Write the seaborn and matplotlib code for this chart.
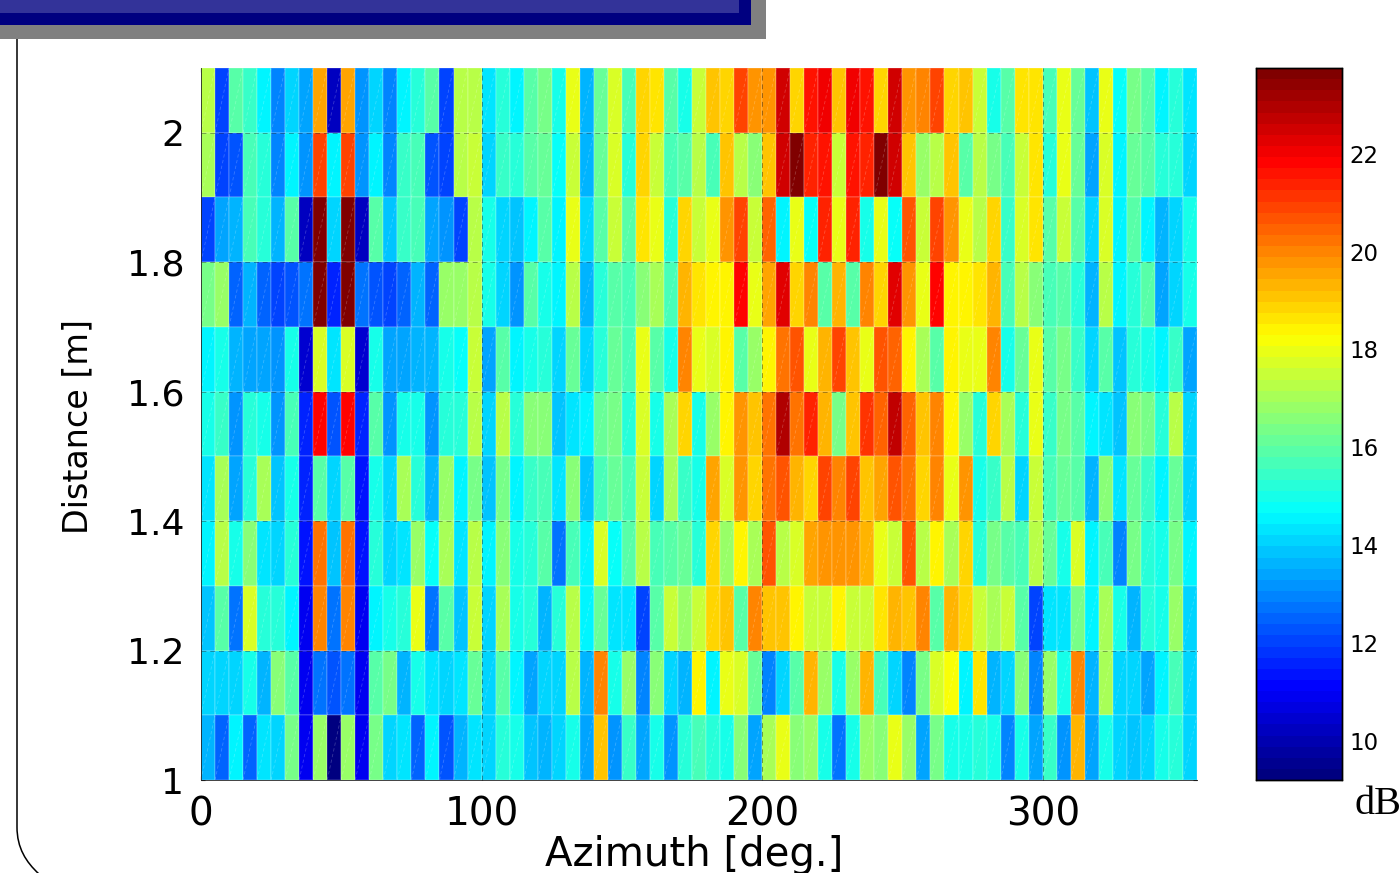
import numpy as np
import pandas as pd
import seaborn as sns
import matplotlib
matplotlib.use("Agg")
import matplotlib.pyplot as plt
from matplotlib.collections import LineCollection
from matplotlib.colors import LinearSegmentedColormap
from matplotlib.patches import PathPatch, Rectangle
from matplotlib.path import Path

azimuths = list(range(0, 355, 5))
distances = [2.0, 1.9, 1.8, 1.7, 1.6, 1.5, 1.4, 1.3, 1.2, 1.1, 1.0]

row_2_0 = [17.3,12.0,15.8,15.4,14.6,13.0,14.1,13.3,19.5,10.2,19.5,13.2,14.1,13.0,14.6,15.3,15.8,12.0,17.3,17.3,14.3,15.3,14.6,15.8,
           16.3,14.9,17.9,13.7,16.2,17.7,15.6,18.8,18.7,15.8,15.0,17.4,19.0,18.9,20.8,19.7,19.7,22.6,18.9,21.6,22.0,19.2,22.1,21.6,
           18.9,22.6,19.8,20.0,20.8,18.9,19.1,17.4,15.1,15.8,18.6,18.6,15.7,17.9,16.2,13.8,17.9,14.7,16.4,15.9,14.6,15.2,14.3]
row_1_9 = [17.0,12.1,12.2,15.7,15.2,12.9,14.6,13.2,20.8,14.6,20.8,13.2,14.6,13.0,15.4,15.7,12.3,12.1,17.2,17.4,14.2,15.4,15.3,15.8,
           16.2,14.8,17.6,13.7,16.2,17.8,15.3,18.8,17.6,15.7,16.0,17.3,15.7,19.1,17.2,16.7,19.1,22.5,23.7,21.4,21.7,17.4,21.7,21.3,
           23.7,22.5,19.0,16.9,17.3,19.2,15.8,17.2,16.3,15.7,17.5,18.6,15.3,17.9,16.2,13.3,17.7,14.5,16.2,15.9,15.2,15.2,14.0]
row_1_8 = [12.0,13.3,13.6,15.7,15.3,13.7,15.8,10.3,23.7,14.1,23.7,10.3,15.8,13.8,15.4,15.7,13.3,13.2,12.0,17.3,14.9,14.2,13.9,14.6,
           15.9,14.6,18.0,14.1,16.0,17.6,15.8,18.7,17.9,15.3,18.9,17.5,18.0,19.8,21.0,17.4,20.5,14.6,18.0,14.8,21.3,18.0,21.3,14.9,
           18.0,14.8,20.6,17.6,21.0,19.8,18.0,17.3,18.9,15.5,17.8,18.7,15.8,17.6,16.0,14.2,17.8,14.6,15.8,14.6,13.6,14.0,14.9]
row_1_7 = [16.3,16.9,12.6,13.6,12.5,12.1,12.2,12.8,23.7,11.7,23.7,12.7,12.3,12.1,12.5,13.6,12.4,16.9,16.9,17.2,15.0,14.2,13.1,16.0,
           15.1,14.6,17.3,13.7,15.2,15.8,15.6,16.5,17.0,15.6,19.4,18.6,18.3,18.3,21.9,17.9,19.5,22.2,18.8,20.1,15.8,19.4,15.8,20.0,
           18.9,22.2,19.7,18.0,21.9,18.3,18.3,18.6,19.4,15.7,17.2,16.6,15.6,15.9,15.2,13.6,17.3,14.6,15.3,16.0,13.3,14.1,15.1]
row_1_6 = [14.6,15.0,13.7,13.5,13.4,13.2,15.1,10.4,17.7,14.3,17.7,10.4,15.1,13.3,13.3,13.6,13.7,15.0,14.7,17.6,13.3,15.8,14.6,15.0,
           15.2,14.1,16.1,14.2,15.2,16.2,15.6,17.9,16.0,15.0,20.1,18.0,17.8,18.3,15.9,16.8,18.3,20.3,20.6,18.0,19.4,21.0,19.2,17.9,
           20.6,20.4,18.3,17.0,15.9,18.3,17.9,18.0,20.1,15.0,16.1,17.9,15.9,16.4,15.4,14.2,16.0,13.9,15.2,15.0,14.6,15.5,13.4]
row_1_5 = [15.1,15.5,13.2,15.2,15.0,13.2,15.7,11.7,21.9,12.2,21.9,11.6,15.8,13.2,15.0,15.0,13.1,15.3,15.3,17.2,14.2,17.3,15.3,16.5,
           16.6,13.9,14.3,14.6,16.1,16.3,15.3,17.8,15.1,17.0,18.9,15.1,16.9,18.3,19.7,19.0,20.3,22.9,20.3,21.3,19.3,16.4,19.2,21.2,
           20.4,22.8,20.5,19.0,19.9,18.3,16.8,15.2,18.8,17.0,15.3,17.9,15.5,16.4,15.9,14.6,14.3,13.8,16.6,16.4,15.3,17.3,14.2]
row_1_4 = [14.4,17.0,13.4,15.3,17.0,13.8,15.0,11.5,15.9,14.0,15.9,11.3,14.9,14.0,17.0,15.3,13.6,16.9,14.5,16.3,13.9,16.3,14.6,15.5,
           15.7,14.3,16.6,13.8,15.6,16.2,15.6,17.6,14.2,17.0,15.4,15.1,19.5,17.7,19.8,18.9,20.3,20.7,19.4,18.9,21.0,19.9,21.0,19.0,
           19.5,20.6,20.2,18.9,19.9,17.9,19.7,15.0,15.5,17.2,14.2,17.6,15.6,16.2,15.8,13.7,16.6,14.4,16.2,15.5,14.6,16.1,14.0]
row_1_3 = [14.5,17.2,15.0,16.7,14.4,14.0,15.3,11.4,20.3,13.9,20.3,11.3,15.2,14.2,14.4,16.9,14.8,17.0,14.4,17.3,14.6,16.5,15.0,15.3,
           15.9,12.8,15.6,14.6,17.7,14.8,16.0,17.3,15.6,15.8,16.2,15.2,18.9,16.9,18.3,17.1,20.7,17.3,17.8,19.5,19.8,19.8,19.8,19.4,
           18.0,17.4,20.7,17.3,18.3,17.0,18.9,15.2,16.4,16.0,15.7,17.2,16.2,14.9,17.7,14.6,15.7,12.9,16.3,15.3,15.0,16.3,14.6]
row_1_2 = [13.9,16.0,12.7,17.8,15.2,15.3,14.6,10.9,20.1,12.8,20.1,10.9,14.6,15.0,15.2,18.0,12.8,15.9,13.9,17.6,14.2,17.0,15.0,15.3,
           13.7,15.2,17.2,14.6,16.2,14.3,14.3,12.0,15.9,17.5,16.8,17.4,18.8,19.2,16.0,20.1,19.1,19.2,18.5,17.5,17.5,18.5,17.4,17.4,
           18.6,19.4,19.0,20.1,16.0,19.3,18.8,17.6,17.0,17.4,15.9,12.0,14.3,14.4,16.4,14.6,17.1,15.0,13.6,15.2,14.9,16.9,14.2]
row_1_1 = [14.2,14.1,14.2,14.9,13.6,16.5,15.8,11.0,12.7,12.2,12.7,11.0,15.9,16.3,13.6,15.0,14.3,14.2,14.3,16.2,14.2,15.8,14.6,13.4,
           14.2,14.0,17.3,13.7,20.0,15.0,16.9,13.0,16.7,14.0,13.6,18.5,14.6,18.0,17.7,16.2,13.0,14.1,15.8,19.4,16.8,15.1,16.8,19.4,
           15.7,14.1,13.0,16.3,17.7,18.1,14.6,18.6,13.6,14.1,16.6,13.0,16.9,15.0,20.0,13.7,17.1,14.1,14.0,13.4,14.6,15.6,14.1]
row_1_0 = [13.6,12.4,14.6,12.4,14.4,14.2,16.4,11.0,16.8,9.2,16.8,11.0,16.3,14.2,14.4,12.5,14.6,12.3,13.6,14.4,14.2,15.2,15.0,13.9,
           13.7,14.1,15.0,13.5,19.2,13.2,15.5,13.5,14.9,13.1,15.3,15.6,15.3,14.9,16.5,13.5,17.0,18.0,16.7,16.9,15.0,12.7,15.0,16.9,
           16.6,18.0,16.8,13.4,16.3,14.9,15.1,15.3,15.0,13.0,14.9,13.4,15.4,13.2,19.3,13.4,14.9,14.1,13.8,14.0,15.0,15.2,14.2]

x_ticks = [0, 100, 200, 300]
y_ticks = [2.0, 1.8, 1.6, 1.4, 1.2, 1.0]
y_tick_labels = ["2", "1.8", "1.6", "1.4", "1.2", "1"]
cbar_ticks = [10, 12, 14, 16, 18, 20, 22]

table = pd.DataFrame([row_2_0, row_1_9, row_1_8, row_1_7, row_1_6, row_1_5,
                      row_1_4, row_1_3, row_1_2, row_1_1, row_1_0],
                     index=distances, columns=azimuths)

W, H = 1400, 873
sns.set_theme(style="white")
plt.rcParams["font.family"] = ["DejaVu Sans"]
fig = plt.figure(figsize=(W / 100, H / 100), dpi=100, facecolor="white")

def box(x0, y0, x1, y1):
    return [x0 / W, 1 - y1 / H, (x1 - x0) / W, (y1 - y0) / H]

# slide furniture behind the chart
bg = fig.add_axes([0, 0, 1, 1], zorder=0)
bg.set_xlim(0, W); bg.set_ylim(H, 0); bg.axis("off")
bg.add_patch(Rectangle((0, 0), 766, 39, fc="#808080", ec="none"))
bg.add_patch(Rectangle((0, 0), 751, 24.5, fc="#000080", ec="none"))
bg.add_patch(Rectangle((0, 0), 739, 13, fc="#333399", ec="none"))
bg.add_patch(PathPatch(Path([(17, 39), (17, 827), (17, 848), (26, 862), (39, 874)],
                            [Path.MOVETO, Path.LINETO, Path.CURVE4, Path.CURVE4, Path.CURVE4]),
                       fc="none", ec="black", lw=1.1))

ax = fig.add_axes(box(201, 68, 1197, 780), zorder=2)
cax = fig.add_axes(box(1256, 68, 1342, 780), zorder=2)

jet64 = LinearSegmentedColormap.from_list(
    "matlab_jet",
    [(0, (0, 0, .5)), (1 / 8, (0, 0, 1)), (3 / 8, (0, 1, 1)),
     (5 / 8, (1, 1, 0)), (7 / 8, (1, 0, 0)), (1, (.5, 0, 0))], N=64)

sns.heatmap(table, ax=ax, cbar_ax=cax, cmap=jet64, vmin=9.2, vmax=23.75,
            linewidths=0.2, linecolor=(1, 1, 1, 0.12),
            xticklabels=False, yticklabels=False)
cax.collections[0].set_edgecolor("face")

# faint triangulation seams in each cell, as in the exported figure
nr, nc = table.shape
segs = [[(i, j + 1), (i + 1, j)] for i in range(nc) for j in range(nr)]
ax.add_collection(LineCollection(segs, colors=[(1, 1, 1, 0.22)], linewidths=0.6,
                                 linestyles=[(0, (4, 3))]))

# axes in data units
xpos = [a / 5 for a in x_ticks]
ypos = [(2.1 - d) * 10 for d in y_ticks]
ax.set_xticks(xpos); ax.set_xticklabels([str(a) for a in x_ticks], rotation=0)
ax.set_yticks(ypos); ax.set_yticklabels(y_tick_labels, rotation=0)
for p in xpos[1:]:
    ax.axvline(p, color="black", lw=0.7, alpha=0.4, ls=(0, (5, 4)))
for p in ypos[:-1]:
    ax.axhline(p, color="black", lw=0.7, alpha=0.35, ls=(0, (5, 4)))
ax.tick_params(axis="both", direction="in", length=3, width=0.8, color="black",
               top=True, right=True, bottom=True, left=True, labelcolor="black")
ax.tick_params(axis="x", pad=11, labelsize=28)
ax.tick_params(axis="y", pad=12, labelsize=26)
for name, s in ax.spines.items():
    s.set_visible(name in ("left", "bottom")); s.set_linewidth(0.6); s.set_color("#222222")

ax.set_xlabel("Azimuth [deg.]", fontsize=29, color="black", va="center")
ax.xaxis.set_label_coords(0.495, -0.105)
ax.set_ylabel("Distance [m]", fontsize=24, color="black", va="center")
ax.yaxis.set_label_coords(-0.1235, 0.496)

cax.set_yticks(cbar_ticks)
cax.set_yticklabels([str(t) for t in cbar_ticks])
cax.tick_params(axis="y", direction="in", length=7, width=0.9, left=True, right=True,
                color="#222222", labelsize=16.5, labelcolor="black", pad=5)
for s in cax.spines.values():
    s.set_visible(True); s.set_linewidth(1.0); s.set_color("black")

fig.text(1355 / W, 1 - 805 / H, "dB", family="Liberation Serif", fontsize=29,
         color="black", va="center", ha="left")

fig.savefig("out.png", dpi=100, facecolor="white")
